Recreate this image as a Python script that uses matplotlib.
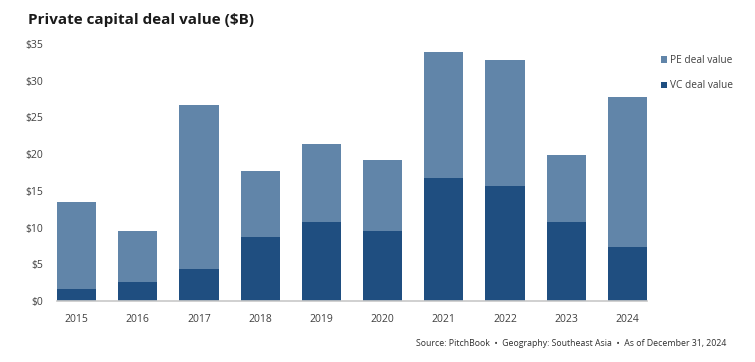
import numpy as np
import matplotlib.pyplot as plt

plt.rcParams['font.family'] = ['Open Sans', 'DejaVu Sans']

years = ['2015', '2016', '2017', '2018', '2019', '2020', '2021', '2022', '2023', '2024']
total_deal = [13.5, 9.5, 26.7, 17.7, 21.4, 19.2, 33.9, 32.8, 19.9, 27.8]
vc_deal = [1.7, 2.6, 4.4, 8.7, 10.7, 9.6, 16.7, 15.6, 10.7, 7.4]
pe_deal = [t - v for t, v in zip(total_deal, vc_deal)]
y_ticks = [0, 5, 10, 15, 20, 25, 30, 35]

pe_color = '#6185a9'
vc_color = '#1f4e80'

fig = plt.figure(figsize=(7.55, 3.62), dpi=100)
ax = fig.add_axes([57 / 755, 1 - 301 / 362, 590 / 755, 257 / 362])

x = np.arange(len(years))
ax.bar(x, vc_deal, width=0.64, color=vc_color, label='VC deal value')
ax.bar(x, pe_deal, bottom=vc_deal, width=0.64, color=pe_color, label='PE deal value')

ax.set_xlim(-0.32, len(years) - 0.68)
ax.set_ylim(0, 35)
ax.set_xticks(x)
ax.set_xticklabels(years)
ax.set_yticks(y_ticks)
ax.set_yticklabels(['$' + str(v) for v in y_ticks])
ax.tick_params(axis='both', length=0, labelsize=7.5, colors='#404040')
ax.tick_params(axis='x', pad=9)
ax.tick_params(axis='y', pad=10)
for s in ['top', 'right', 'left']:
    ax.spines[s].set_visible(False)
ax.spines['bottom'].set_color('#c8c8c8')
ax.spines['bottom'].set_linewidth(1.2)

handles, labels = ax.get_legend_handles_labels()
ax.legend(handles[::-1], labels[::-1], loc='upper left', bbox_to_anchor=(652 / 755, 1 - 46 / 362),
          bbox_transform=fig.transFigure, frameon=False, fontsize=7.3, handlelength=0.6,
          handleheight=0.6, handletextpad=0.3, labelspacing=1.4, labelcolor='#404040')

fig.text(28 / 755, 1 - 20 / 362, 'Private capital deal value ($B)', fontsize=11, fontweight='bold',
         color='#1a1a1a', va='center', ha='left')
fig.text(726 / 755, 1 - 343 / 362,
         'Source: PitchBook  \u2022  Geography: Southeast Asia  \u2022  As of December 31, 2024',
         fontsize=6.3, color='#303030', ha='right', va='center')

fig.savefig('out.png', dpi=100)
